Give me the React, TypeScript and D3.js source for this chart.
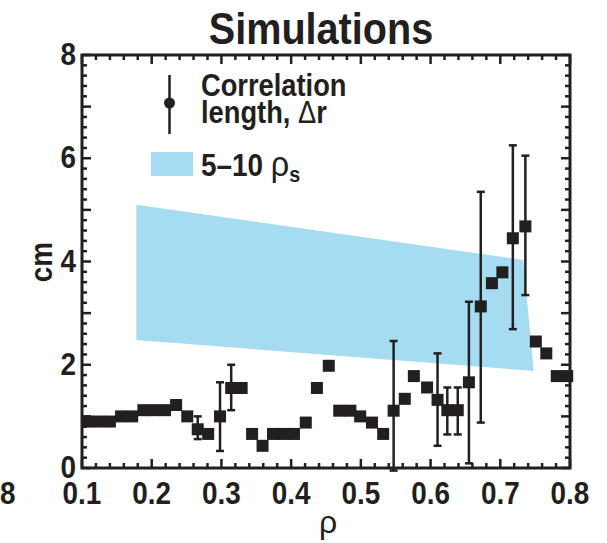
import React from "react";
import * as d3 from "d3";

const rho = [0.108,0.124,0.140,0.156,0.172,0.188,0.203,0.219,0.235,0.251,0.266,0.281,0.298,0.314,0.329,0.344,0.359,0.374,0.389,0.404,0.421,0.437,0.454,0.469,0.485,0.499,0.516,0.532,0.547,0.563,0.576,0.595,0.610,0.624,0.639,0.655,0.672,0.688,0.703,0.718,0.736,0.751,0.766,0.781,0.796];
const corrLength = [0.9,0.9,0.9,1.0,1.0,1.12,1.12,1.12,1.22,1.0,0.75,0.66,1.0,1.55,1.55,0.66,0.43,0.66,0.66,0.66,0.88,1.55,1.98,1.11,1.11,1.0,0.88,0.66,1.11,1.34,1.78,1.56,1.32,1.12,1.12,1.66,3.13,3.58,3.79,4.45,4.68,2.45,2.22,1.78,1.78];
const errRho = [0.266,0.298,0.314,0.547,0.610,0.624,0.639,0.655,0.672,0.718,0.736];
const errLow = [0.56,0.33,1.12,-0.05,0.43,0.65,0.65,0.09,0.88,2.69,3.35];
const errHigh = [1.0,1.66,2.0,2.46,2.22,1.56,1.56,3.22,5.35,6.25,6.05];
const bandTop: [number, number][] = [[0.178,5.1],[0.733,4.03]];
const bandBottom: [number, number][] = [[0.748,1.88],[0.178,2.48]];
const xTickLabels = ["0.1","0.2","0.3","0.4","0.5","0.6","0.7","0.8"];
const yTickLabels = ["0","2","4","6","8"];

const INK = "#231f20";
const BLUE = "#a5dcf2";
const FONT = "'Liberation Sans Narrow', 'Arial Narrow', 'Liberation Sans', Arial, sans-serif";

function CText(props: { x: number; y: number; sx?: number; anchor?: string; size: number; bold?: boolean; children: React.ReactNode }) {
  const { x, y, sx = 0.9, anchor = "start", size, bold = true, children } = props;
  return (
    <text transform={`translate(${x},${y}) scale(${sx},1)`} textAnchor={anchor} fontSize={size} fontWeight={bold ? "bold" : "normal"} fill={INK}>
      {children}
    </text>
  );
}

export default function App() {
  const x = d3.scaleLinear().domain([0.1, 0.8]).range([82, 570]);
  const y = d3.scaleLinear().domain([0, 8]).range([468, 55]);
  const [x0, x1] = x.range();
  const [y0, y1] = y.range();
  const xMinor = d3.range(0.1, 0.8001, 0.02);
  const xMajor = xTickLabels.map(Number);
  const yMinor = d3.range(0, 8.0001, 0.2);
  const bandPath = d3.line<[number, number]>().x(d => x(d[0])).y(d => y(d[1]))([...bandTop, ...bandBottom]) + "Z";
  const sq = 12;
  const cap = 4;
  const isMajor = (v: number, step: number) => Math.abs(v / step - Math.round(v / step)) < 1e-6;

  return (
    <svg width={607} height={543} style={{ position: "absolute", left: 0, top: 0 }} fontFamily={FONT}>
      <rect x={0} y={0} width={607} height={543} fill="#fff" />
      <path d={bandPath} fill={BLUE} />
      {errRho.map((r, i) => (
        <g key={"e" + i} stroke={INK} strokeWidth={2.5}>
          <line x1={x(r)} x2={x(r)} y1={y(errLow[i])} y2={y(errHigh[i])} />
          <line x1={x(r) - cap} x2={x(r) + cap} y1={y(errLow[i])} y2={y(errLow[i])} />
          <line x1={x(r) - cap} x2={x(r) + cap} y1={y(errHigh[i])} y2={y(errHigh[i])} />
        </g>
      ))}
      {rho.map((r, i) => (
        <rect key={"p" + i} x={x(r) - sq / 2} y={y(corrLength[i]) - sq / 2} width={sq} height={sq} fill={INK} />
      ))}
      <rect x={x0} y={y1} width={x1 - x0} height={y0 - y1} fill="none" stroke={INK} strokeWidth={3} />
      {xMinor.map((v, i) => {
        const L = isMajor(v, 0.1) ? 9 : 5;
        return (
          <g key={"xt" + i} stroke={INK} strokeWidth={2.5}>
            <line x1={x(v)} x2={x(v)} y1={y0} y2={y0 - L} />
            <line x1={x(v)} x2={x(v)} y1={y1} y2={y1 + L} />
          </g>
        );
      })}
      {yMinor.map((v, i) => {
        const L = isMajor(v, 1) ? 9 : 5;
        return (
          <g key={"yt" + i} stroke={INK} strokeWidth={2.5}>
            <line x1={x0} x2={x0 + L} y1={y(v)} y2={y(v)} />
            <line x1={x1} x2={x1 - L} y1={y(v)} y2={y(v)} />
          </g>
        );
      })}
      {xTickLabels.map((t, i) => (
        <CText key={"xl" + i} x={x(xMajor[i])} y={504} anchor="middle" size={31}>{t}</CText>
      ))}
      <CText x={0} y={504} size={31}>8</CText>
      {yTickLabels.map((t, i) => (
        <CText key={"yl" + i} x={76} y={y(Number(t)) + 10} anchor="end" size={31}>{t}</CText>
      ))}
      <CText x={(x0 + x1) / 2 - 5} y={44} anchor="middle" size={44}>Simulations</CText>
      <CText x={328} y={533} anchor="middle" size={32} bold={false} sx={1}>ρ</CText>
      <text transform="translate(52,262) rotate(-90) scale(0.9,1)" textAnchor="middle" fontSize={31} fontWeight="bold" fill={INK}>cm</text>
      <line x1={169.5} x2={169.5} y1={75} y2={134} stroke={INK} strokeWidth={2.5} />
      <circle cx={169.5} cy={103} r={5.5} fill={INK} />
      <CText x={201} y={96} size={31} sx={0.88}>Correlation</CText>
      <CText x={201} y={123} size={31} sx={0.88}>
        <tspan>length, </tspan>
        <tspan fontWeight="normal">Δ</tspan>
        <tspan>r</tspan>
      </CText>
      <rect x={151} y={152} width={42} height={24} fill={BLUE} />
      <CText x={201} y={176} size={31} sx={0.9}>
        <tspan>5–10 </tspan>
        <tspan fontWeight="normal" fontSize={36}>ρ</tspan>
        <tspan fontSize={22} dy={6}>s</tspan>
      </CText>
    </svg>
  );
}
